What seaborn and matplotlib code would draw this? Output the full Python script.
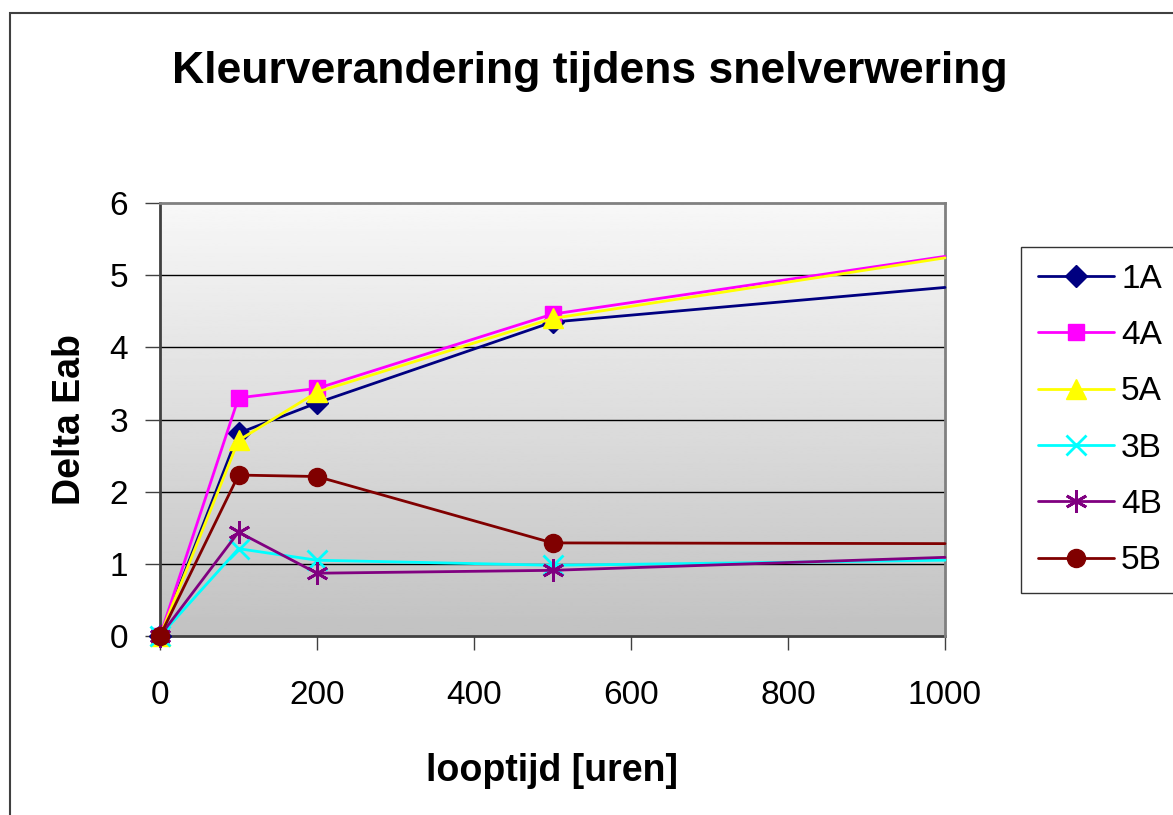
import matplotlib
matplotlib.use("Agg")
import matplotlib.pyplot as plt
import numpy as np
import pandas as pd
import seaborn as sns
from matplotlib.patches import Rectangle

# data
hours = [0, 100, 200, 500, 1000]
series_names = ["1A", "4A", "5A", "3B", "4B", "5B"]
delta_1a = [0.0, 2.81, 3.23, 4.35, 4.83]
delta_4a = [0.0, 3.30, 3.43, 4.46, 5.26]
delta_5a = [0.0, 2.71, 3.38, 4.40, 5.24]
delta_3b = [0.0, 1.21, 1.05, 0.98, 1.05]
delta_4b = [0.0, 1.44, 0.87, 0.91, 1.09]
delta_5b = [0.0, 2.23, 2.21, 1.29, 1.28]
x_ticks = [0, 200, 400, 600, 800, 1000]
y_ticks = [0, 1, 2, 3, 4, 5, 6]

values = [delta_1a, delta_4a, delta_5a, delta_3b, delta_4b, delta_5b]
df = pd.DataFrame({
    "looptijd": hours * len(series_names),
    "delta": [v for vals in values for v in vals],
    "serie": [n for n in series_names for _ in hours],
})

styles = {
    "1A": dict(color="#000080", marker="D", markersize=11),
    "4A": dict(color="#FF00FF", marker="s", markersize=12),
    "5A": dict(color="#FFFF00", marker="^", markersize=15),
    "3B": dict(color="#00FFFF", marker="x", markersize=14, markeredgewidth=2),
    "4B": dict(color="#800080", marker=(6, 2, 0), markersize=16, markeredgewidth=2),
    "5B": dict(color="#800000", marker="o", markersize=13),
}

sns.set_theme(style="white")
plt.rcParams["font.family"] = ["Liberation Sans", "DejaVu Sans"]
plt.rcParams["text.color"] = "black"
plt.rcParams["axes.labelcolor"] = "black"
plt.rcParams["xtick.color"] = "black"
plt.rcParams["ytick.color"] = "black"

fig = plt.figure(figsize=(11.73, 8.15), dpi=100)
ax = fig.add_axes([160 / 1173, 1 - 636 / 815, 785 / 1173, 433 / 815])

# grey gradient plot background
grad = np.linspace(0.97, 0.76, 256).reshape(-1, 1)
ax.imshow(grad, cmap="gray", vmin=0, vmax=1, aspect="auto",
          extent=[0, 1000, 0, 6], origin="upper", zorder=0)

for name in series_names:
    sub = df[df["serie"] == name]
    st = styles[name]
    sns.lineplot(data=sub, x="looptijd", y="delta", ax=ax, label=name,
                 color=st["color"], marker=st["marker"], markersize=st["markersize"],
                 markeredgewidth=st.get("markeredgewidth", 1),
                 markeredgecolor=st["color"], linewidth=2, markevery=[0, 1, 2, 3],
                 clip_on=False, zorder=3, legend=False)

ax.set_xlim(0, 1000)
ax.set_ylim(0, 6)
ax.set_xticks(x_ticks)
ax.set_yticks(y_ticks)
ax.set_xticklabels([str(t) for t in x_ticks])
ax.set_yticklabels([str(t) for t in y_ticks])
ax.tick_params(axis="x", direction="out", length=10, width=1, pad=22,
               labelsize=24, color="#404040", bottom=True)
ax.tick_params(axis="y", direction="out", length=11, width=1, pad=12,
               labelsize=24, color="#404040", left=True)
for y in y_ticks[1:-1]:
    ax.axhline(y, color="black", linewidth=1, zorder=1)
for side in ["top", "right"]:
    ax.spines[side].set_color("#808080")
    ax.spines[side].set_linewidth(2)
for side in ["left", "bottom"]:
    ax.spines[side].set_color("#404040")
    ax.spines[side].set_linewidth(2)
    ax.spines[side].set_zorder(2)

ax.set_xlabel("looptijd [uren]", fontsize=27, fontweight="bold", va="center")
ax.xaxis.set_label_coords(0.5, -0.311)
ax.set_ylabel("Delta Eab", fontsize=27, fontweight="bold", va="center")
ax.yaxis.set_label_coords(-0.1146, 0.5)

fig.text(590 / 1173, 1 - 72 / 815, "Kleurverandering tijdens snelverwering",
         ha="center", va="center", fontsize=32, fontweight="bold")

handles, labels = ax.get_legend_handles_labels()
leg = fig.legend(handles, labels, loc="upper left",
                 bbox_to_anchor=(1021 / 1173, 1 - 247 / 815), borderaxespad=0,
                 fontsize=24, frameon=True, fancybox=False, handlelength=2.3,
                 handletextpad=0.2, labelspacing=0.76, borderpad=0.5)
leg.get_frame().set_edgecolor("black")
leg.get_frame().set_linewidth(1)
leg.get_frame().set_facecolor("white")

# outer chart border
fig.patches.append(Rectangle((10 / 1173, -0.05), 1.2, 1 - 13 / 815 + 0.05,
                             transform=fig.transFigure, fill=False,
                             edgecolor="#404040", linewidth=1.5))

fig.savefig("out.png", dpi=100)
plt.close(fig)
